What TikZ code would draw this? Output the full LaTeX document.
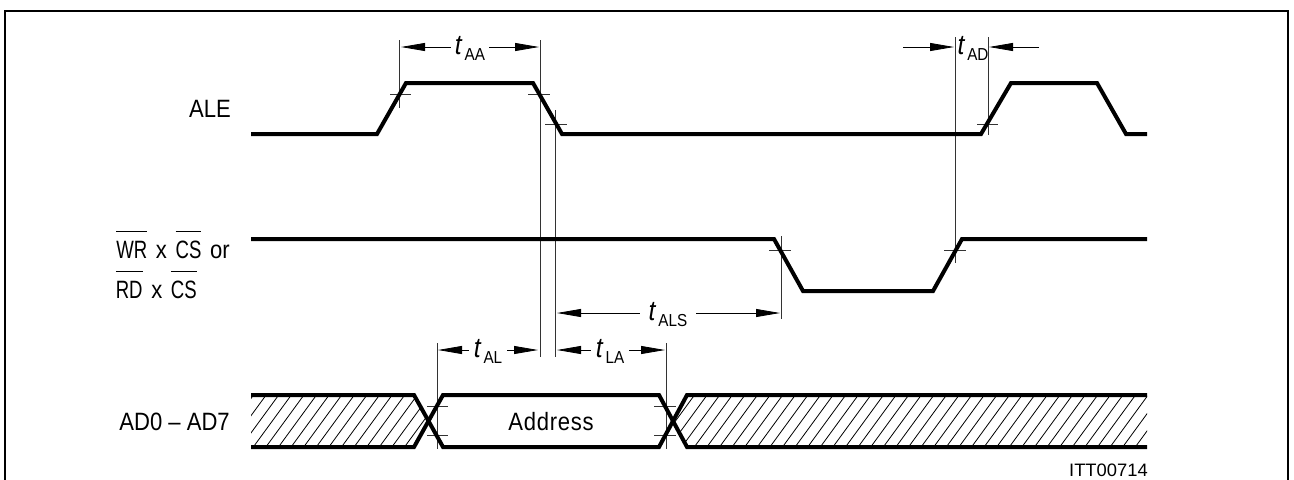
\documentclass[tikz,border=0pt]{standalone}
\usepackage{fontspec}
\setmainfont[FakeStretch=0.88]{Liberation Sans}
\newfontfamily\ittfont[FakeStretch=1.02]{Liberation Sans}
\newfontfamily\condfont[FakeStretch=0.74]{Liberation Sans}
\usetikzlibrary{arrows.meta}
\newcommand{\ovl}[1]{\setbox0=\hbox{\condfont #1}\rlap{\raisebox{19.5pt}{\rule{\wd0}{0.6pt}}}\box0\relax}
\newcommand{\tlbl}[1]{{\fontsize{21}{21}\selectfont\textit{t}}\kern1.5pt\raisebox{-4.5pt}{\fontsize{13}{13}\selectfont #1}}
\newcommand{\gap}{\hspace{6.5pt}}
\begin{document}
\begin{tikzpicture}[x=0.75pt,y=-0.75pt]
    \tikzstyle{frame} = [line width=1.5pt]
    \tikzstyle{wave} = [line width=3pt, line join=miter]
    \tikzstyle{thin_line} = [line width=0.6pt, black!80]
    \tikzstyle{hatch} = [line width=0.6pt]
    \tikzstyle{dim} = [line width=0.6pt, -{Triangle[length=18pt,width=6pt]}]
    \tikzstyle{signal} = [inner sep=0pt, font=\fontsize{18.8}{20}\selectfont]
    \tikzstyle{time} = [inner sep=0pt, text height=12pt, text depth=1.5pt, align=center]

    \useasboundingbox (0,0) rectangle (1294,479);
    \draw[frame] (5,480) -- (5,11) -- (1288,11) -- (1288,480);

      % hatched bands
      \begin{scope}
        \clip (251,395) -- (414,395) -- (429,421) -- (414,447) -- (251,447) -- cycle;
        \foreach \x in {202.9,215.5,...,430}
          \draw[hatch] (\x,447) -- (\x+38,395);
      \end{scope}
      \begin{scope}
        \clip (687,395) -- (1147,395) -- (1147,447) -- (687,447) -- (673,421) -- cycle;
        \foreach \x in {631.3,643.9,...,1150}
          \draw[hatch] (\x,447) -- (\x+38,395);
      \end{scope}

      % guide lines
      \draw[thin_line] (399,40) -- (399,108);
      \draw[thin_line] (540,40) -- (540,357);
      \draw[thin_line] (555,110) -- (555,357);
      \draw[thin_line] (955,37) -- (955,263);
      \draw[thin_line] (988,37) -- (988,135);
      \draw[thin_line] (781,236) -- (781,319);
      \draw[thin_line] (437,343) -- (437,449);
      \draw[thin_line] (666,343) -- (666,449);

      % level marks
      \draw[thin_line] (390,94) -- (411,94);
      \draw[thin_line] (528,94) -- (550,94);
      \draw[thin_line] (545,124) -- (567,124);
      \draw[thin_line] (977,124) -- (998,124);
      \draw[thin_line] (769,250) -- (791,250);
      \draw[thin_line] (944,250) -- (966,250);
      \draw[thin_line] (427,406) -- (448,406);
      \draw[thin_line] (427,435) -- (448,435);
      \draw[thin_line] (654,406) -- (676,406);
      \draw[thin_line] (654,435) -- (676,435);

      % waveforms
      \draw[wave] (251,134) -- (377,134) -- (406,83) -- (533,83) -- (562,134) -- (981,134) -- (1011,83) -- (1097,83) -- (1126,134) -- (1147,134);
      \draw[wave] (251,239) -- (774,239) -- (803,291) -- (933,291) -- (962,239) -- (1147,239);
      \draw[wave] (251,395) -- (414,395) -- (443,447) -- (659,447) -- (687,395) -- (1147,395);
      \draw[wave] (251,447) -- (414,447) -- (443,395) -- (659,395) -- (687,447) -- (1147,447);

      \draw
        (231,109) node[signal, anchor=east] (ale){ALE}
        (230,258) node[signal, anchor=base east] (wr){\ovl{WR}\gap x\gap\ovl{CS}\gap or}
        (197,298) node[signal, anchor=base east] (rd){\ovl{RD}\gap x\gap\ovl{CS}}
        (230,430) node[signal, anchor=base east] (ad){AD0 -- AD7}
        (551,430) node[signal, anchor=base] (addr){\addfontfeature{LetterSpace=3}Address}
        (1148,476) node[anchor=base east, inner sep=0pt, font=\ittfont\fontsize{13.5}{14}\selectfont] (itt){ITT00714}
        (470,47) node[time, minimum width=28.5pt] (taa){\tlbl{AA}}
        (973,47) node[time] (tad){\tlbl{AD}}
        (668,313) node[time, minimum width=42pt] (tals){\tlbl{ALS}}
        (488,350) node[time, minimum width=28.5pt] (tal){\tlbl{AL}}
        (610,350) node[time, minimum width=28.5pt] (tla){\tlbl{LA}};

      \coordinate (aa_l) at (401,47);
      \coordinate (aa_r) at (539,47);
      \coordinate (ad_a) at (903,47);
      \coordinate (ad_b) at (954,47);
      \coordinate (ad_c) at (1039,47);
      \coordinate (ad_d) at (989,47);
      \coordinate (als_l) at (557,313);
      \coordinate (als_r) at (780,313);
      \coordinate (al_l) at (438,350);
      \coordinate (al_r) at (538,350);
      \coordinate (la_l) at (557,350);
      \coordinate (la_r) at (665,350);

      \draw[dim] (taa) -- (aa_l);
      \draw[dim] (taa) -- (aa_r);
      \draw[dim] (ad_a) -- (ad_b);
      \draw[dim] (ad_c) -- (ad_d);
      \draw[dim] (tals) -- (als_l);
      \draw[dim] (tals) -- (als_r);
      \draw[dim] (tal) -- (al_l);
      \draw[dim] (tal) -- (al_r);
      \draw[dim] (tla) -- (la_l);
      \draw[dim] (tla) -- (la_r);
    \end{tikzpicture}
\end{document}
